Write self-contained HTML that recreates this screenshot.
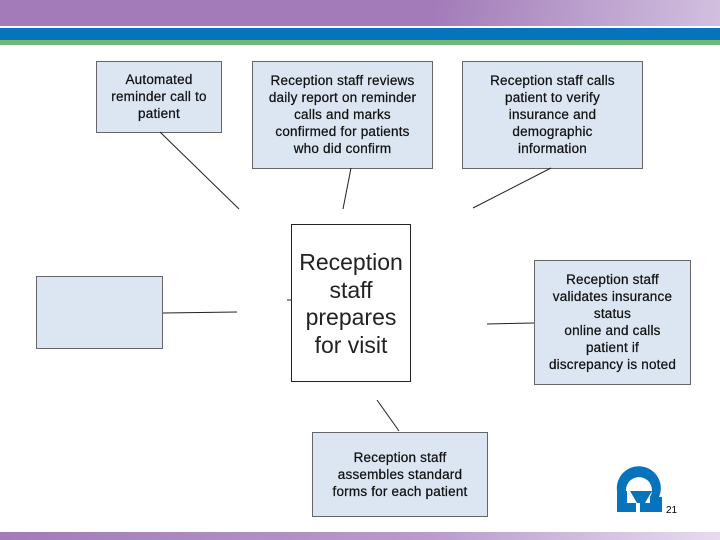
<!DOCTYPE html>
<html><head><style>
body{margin:0;width:720px;height:540px;position:relative;background:#fff;overflow:hidden;font-family:"Liberation Sans",sans-serif}
.b{position:absolute;background:#dce6f2;border:1px solid #666;box-sizing:border-box;font-size:13.5px;letter-spacing:0.2px;line-height:17px;text-align:center;color:#111;display:flex;align-items:flex-start;justify-content:center;padding-top:10px;white-space:nowrap;-webkit-text-stroke:0.25px #111}
</style></head><body>
<div style="position:absolute;left:0;top:0;width:720px;height:26px;background:linear-gradient(100deg,#a27bb8 0%,#a27bb8 60%,#d2c0e0 100%)"></div>
<div style="position:absolute;left:0;top:28px;width:720px;height:12px;background:#0673bd"></div>
<div style="position:absolute;left:0;top:40px;width:720px;height:5px;background:#70b879"></div>
<div style="position:absolute;left:0;top:532px;width:720px;height:8px;background:linear-gradient(90deg,#a27bb8,#b89ccb 60%,#e6dcef)"></div>

<div class="b" style="left:96px;top:61px;width:126px;height:72px;padding-top:9px">Automated<br>reminder call to<br>patient</div>
<div class="b" style="left:252px;top:61px;width:181px;height:108px">Reception staff reviews<br>daily report on reminder<br>calls and marks<br>confirmed for patients<br>who did confirm</div>
<div class="b" style="left:462px;top:61px;width:181px;height:108px">Reception staff calls<br>patient to verify<br>insurance and<br>demographic<br>information</div>
<div class="b" style="left:36px;top:276px;width:127px;height:73px"></div>
<div class="b" style="left:534px;top:260px;width:157px;height:125px;padding-top:10px">Reception staff<br>validates insurance<br>status<br>online and calls<br>patient if<br>discrepancy is noted</div>
<div class="b" style="left:312px;top:432px;width:176px;height:85px;padding-top:16px">Reception staff<br>assembles standard<br>forms for each patient</div>
<div style="position:absolute;left:291px;top:224px;width:120px;height:158px;border:1px solid #222;box-sizing:border-box;text-align:center;font-size:23px;line-height:27.5px;color:#222;padding-top:24px">Reception<br>staff<br>prepares<br>for visit</div>

<svg style="position:absolute;left:0;top:0" width="720" height="540">
<g stroke="#222" stroke-width="1">
<line x1="160" y1="132" x2="239" y2="209"/>
<line x1="351" y1="168" x2="343" y2="209"/>
<line x1="551" y1="168" x2="473" y2="208"/>
<line x1="163" y1="313" x2="237" y2="312"/>
<line x1="487" y1="324" x2="534" y2="323"/>
<line x1="377" y1="400" x2="399" y2="431"/>
<line x1="287" y1="300" x2="291" y2="300"/>
</g>
<g fill="#0673bd">
<path d="M617 491 A22 22 0 1 1 659 497 L650 497 A13 13 0 1 0 626 491 Z"/>
<rect x="617" y="491" width="10" height="21"/>
<rect x="627" y="503" width="9" height="9"/>
<rect x="650" y="497" width="12" height="6"/>
<rect x="640" y="503" width="22" height="9"/>
<path d="M630 491 L652 491 L645 503 L637 503 Z"/>
</g>
<text x="666" y="513" font-family="Liberation Sans" font-size="10" fill="#000">21</text>
</svg>
</body></html>
